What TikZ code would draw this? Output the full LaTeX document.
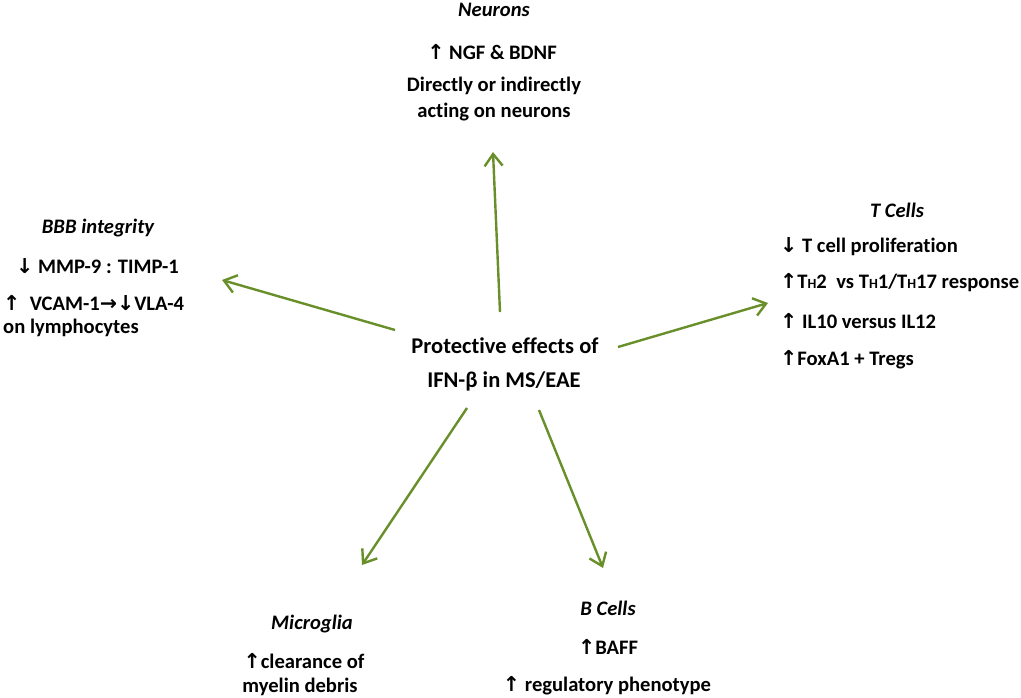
\documentclass[tikz,border=0pt]{standalone}
\usepackage{fontspec}
\setmainfont{Carlito}[Ligatures={NoCommon,TeX}]
\newfontfamily\arrfont{DejaVu Sans}
\usetikzlibrary{arrows.meta}
\definecolor{arrgreen}{RGB}{104,143,41}
\newcommand{\up}{{\arrfont\bfseries ↑}}
\newcommand{\dn}{{\arrfont\bfseries ↓}}
\newcommand{\ri}{{\arrfont\bfseries →}}
\newcommand{\sH}{{\fontsize{14}{14}\selectfont H}}
\begin{document}
\begin{tikzpicture}[x=1pt,y=-1pt,
  txt/.style={font=\fontsize{20.6}{24}\selectfont\bfseries, inner sep=0pt},
  ctr/.style={font=\fontsize{22.5}{26}\selectfont\bfseries, inner sep=0pt},
  ttl/.style={font=\fontsize{20.6}{24}\selectfont\bfseries\itshape, inner sep=0pt},
  lft/.style={txt, anchor=west},
  garrow/.style={draw=arrgreen, line width=2.4pt, -{Straight Barb[length=12pt,width=18pt,line width=2.4pt]}}]
\useasboundingbox (0,0) rectangle (1021,698);
% center
\node[ctr] (c1) at (505,346) {Protective effects of};
\node[ctr] (c2) at (504,381) {IFN-β in MS/EAE};
% Neurons
\node[ttl] (n0) at (494,10) {Neurons};
\node[txt] (n1) at (492,52) {\up\ NGF \& BDNF};
\node[txt] (n2) at (494,86) {Directly or indirectly};
\node[txt] (n3) at (494,112) {acting on neurons};
% BBB
\node[ttl] (b0) at (98,228) {BBB integrity};
\node[lft] (b1) at (16,266) {\dn\ MMP-9 : TIMP-1};
\node[lft] (b2) at (3,303) {\up\ \ VCAM-1\ri\dn VLA-4};
\node[lft] (b3) at (3,328) {on lymphocytes};
% T cells
\node[ttl] (t0) at (897,210) {T Cells};
\node[lft] (t1) at (780,247) {\dn\ T cell proliferation};
\node[lft] (t2) at (780,283) {\up T\sH2\ \ vs T\sH1/T\sH17 response};
\node[lft] (t3) at (780,321) {\up\ IL10 versus IL12};
\node[lft] (t4) at (780,360) {\up FoxA1 + Tregs};
% Microglia
\node[ttl] (m0) at (312,624) {Microglia};
\node[txt] (m1) at (304,661) {\up clearance of};
\node[txt] (m2) at (300,687) {myelin debris};
% B cells
\node[ttl] (bc0) at (608,608) {B Cells};
\node[txt] (bc1) at (608,647) {\up BAFF};
\node[txt] (bc2) at (607,686) {\up\ regulatory phenotype};
% arrow endpoints
\coordinate (sN) at (500,312); \coordinate (eN) at (493,152);
\coordinate (sB) at (395,330); \coordinate (eB) at (222,280);
\coordinate (sT) at (618,347); \coordinate (eT) at (768,303);
\coordinate (sM) at (467,408); \coordinate (eM) at (362,565);
\coordinate (sC) at (539,410); \coordinate (eC) at (603,568);
\draw[garrow] (sN) -- (eN);
\draw[garrow] (sB) -- (eB);
\draw[garrow] (sT) -- (eT);
\draw[garrow] (sM) -- (eM);
\draw[garrow] (sC) -- (eC);
\end{tikzpicture}
\end{document}
